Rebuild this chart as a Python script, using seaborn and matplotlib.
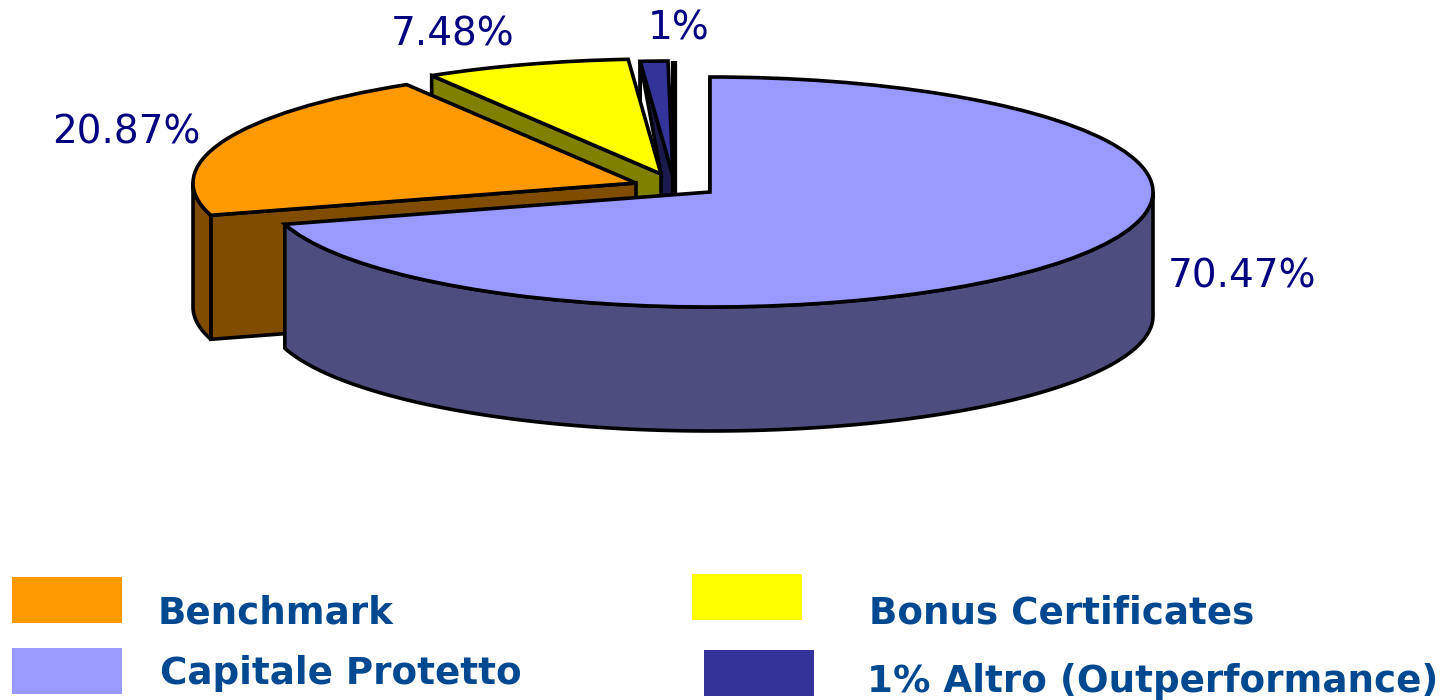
import numpy as np
import matplotlib
matplotlib.use("Agg")
import matplotlib.pyplot as plt
from matplotlib.patches import Polygon, Rectangle
import seaborn as sns

# ── Data ──────────────────────────────────────────────────────────────────────
categories = ["Capitale Protetto", "Benchmark", "Bonus Certificates", "1% Altro (Outperformance)"]
values = [70.47, 20.87, 7.48, 1]
value_labels = ["70.47%", "20.87%", "7.48%", "1%"]

# ── Style ─────────────────────────────────────────────────────────────────────
sns.set_theme(style="white")
plt.rcParams["font.family"] = ["DejaVu Sans"]

top_colors = ["#9999FF", "#FF9900", "#FFFF00", "#333399"]
wall_colors = ["#4D4D80", "#804D00", "#808000", "#1A1A4D"]
LABEL_COLOR = "#000080"
LEGEND_COLOR = "#004990"
LW = 2.6

W, H = 1456, 700
CX, CY = 710, 192     # pie centre in picture pixels
RX, RY = 443, 115     # ellipse radii in pixels
DEPTH = 124           # height of the cylinder


def dx(px):
    return (px - CX) / RX


def dy(py):
    return (CY - py) / RY


depth = DEPTH / RY

fig = plt.figure(figsize=(W / 100, H / 100), dpi=100)
ax = fig.add_axes([0, 0, 1, 1])

# the shares add up to 99.82, keep them as they are
wedges, _ = ax.pie(np.array(values) / 100, normalize=False, startangle=90, counterclock=False,
                   wedgeprops={"edgecolor": "black", "linewidth": LW})
ax.set_aspect("auto")
ax.set_xlim(dx(0), dx(W))
ax.set_ylim(dy(H), dy(0))
ax.axis("off")

# exploded apex of every slice, pixels
apexes = [(CX, CY), (636, 183), (661, 174), (673, 176)]
# painter's order: back to front
layers = {3: 1, 2: 4, 1: 7, 0: 10}


def edge_point(c, theta):
    t = np.radians(theta)
    return np.array([c[0] + np.cos(t), c[1] + np.sin(t)])


for i, w in enumerate(wedges):
    c = np.array([dx(apexes[i][0]), dy(apexes[i][1])])
    w.set_center(c)
    w.set_facecolor(top_colors[i])
    w.set_joinstyle("miter")
    z = layers[i]
    w.set_zorder(z + 2)

    down = np.array([0, depth])
    # radial wall on the clockwise-start edge
    p = edge_point(c, w.theta2)
    ax.add_patch(Polygon([p, c, c - down, p - down], closed=True,
                         facecolor=wall_colors[i], edgecolor="black",
                         linewidth=LW, joinstyle="miter", zorder=z))
    # outer wall, only where the rim faces the viewer
    th = np.linspace(w.theta1, w.theta2, 400)
    th = th[np.sin(np.radians(th)) < 0]
    if len(th):
        rim = np.column_stack([c[0] + np.cos(np.radians(th)), c[1] + np.sin(np.radians(th))])
        ax.add_patch(Polygon(np.vstack([rim, (rim - down)[::-1]]), closed=True,
                             facecolor=wall_colors[i], edgecolor="black",
                             linewidth=LW, joinstyle="round", zorder=z + 1))

# gap between the yellow and the dark blue slice, with its black right side
navy, yellow = wedges[3], wedges[2]
navy_c = np.array([dx(apexes[3][0]), dy(apexes[3][1])])
yellow_c = np.array([dx(apexes[2][0]), dy(apexes[2][1])])
a = edge_point(navy_c, navy.theta2)
ax.add_patch(Polygon([a, yellow_c, a - np.array([0, depth])], closed=True,
                     facecolor="white", edgecolor="black", linewidth=LW, zorder=3.5))
ax.plot([dx(apexes[3][0] + 1)] * 2, [dy(61), dy(196)], color="black", lw=4.5,
        solid_capstyle="butt", zorder=3.6)

# value labels
label_pos = [(1168, 288), (52, 143), (391, 45), (648, 39)]
for (px, py), txt in zip(label_pos, value_labels):
    ax.text(dx(px), dy(py), txt, color=LABEL_COLOR, fontsize=28,
            ha="left", va="baseline", zorder=20)

# legend, laid out by hand as in the slide
swatches = [(12, 648), (12, 577), (692, 574), (704, 650)]
legend_pos = [(160, 684), (158, 623), (869, 623), (867, 692)]
for i, name in enumerate(categories):
    sx, sy = swatches[i]
    ax.add_patch(Rectangle((dx(sx), dy(sy + 46)), 110 / RX, 46 / RY,
                           facecolor=top_colors[i], edgecolor="none", zorder=20))
    tx, ty = legend_pos[i]
    ax.text(dx(tx), dy(ty), name, color=LEGEND_COLOR, fontsize=26.8, fontweight="bold",
            ha="left", va="baseline", zorder=20)

fig.savefig("out.png", dpi=100, facecolor="white")
